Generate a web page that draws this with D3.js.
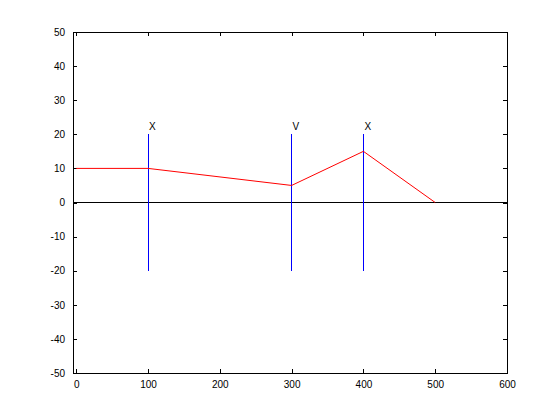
<!DOCTYPE html>
<html lang="en">
<head>
<meta charset="utf-8">
<title>plot</title>
<script src="https://cdnjs.cloudflare.com/ajax/libs/d3/7.8.5/d3.min.js"></script>
<style>
  body { margin: 0; background: #fff; }
  svg text { font-family: "Liberation Sans", Arial, Helvetica, sans-serif; font-size: 10px; }
</style>
</head>
<body>
<div id="chart"></div>
<script>
// data
const lineX = [0, 100, 300, 400, 500];
const lineY = [10, 10, 5, 15, 0];
const markX = [100, 300, 400];
const markLabels = ["X", "V", "X"];
const markRange = [-20, 20];
const xTicks = [0, 100, 200, 300, 400, 500, 600];
const yTicks = [-50, -40, -30, -20, -10, 0, 10, 20, 30, 40, 50];

const width = 560, height = 420;
const margin = {left: 73, right: 53, top: 32, bottom: 47};

const svg = d3.select("#chart").append("svg")
    .attr("width", width)
    .attr("height", height);

const x = d3.scaleLinear().domain([-4.5, 600]).range([margin.left, width - margin.right]);
const y = d3.scaleLinear().domain([-50, 50]).range([height - margin.bottom, margin.top]);

const tl = 4;
const fmt = d => String(d); // plain hyphen minus, like matlab

// axes (MATLAB style: ticks inward, on all four sides)
svg.append("g")
    .attr("transform", "translate(0," + (height - margin.bottom) + ")")
    .call(d3.axisBottom(x).tickValues(xTicks).tickSize(-tl).tickPadding(tl + 4).tickFormat(fmt));
svg.append("g")
    .attr("transform", "translate(0," + margin.top + ")")
    .call(d3.axisTop(x).tickValues(xTicks).tickSize(-tl).tickFormat(""));
svg.append("g")
    .attr("transform", "translate(" + margin.left + ",0)")
    .call(d3.axisLeft(y).tickValues(yTicks).tickSize(-tl).tickPadding(tl + 4).tickFormat(fmt));
svg.append("g")
    .attr("transform", "translate(" + (width - margin.right) + ",0)")
    .call(d3.axisRight(y).tickValues(yTicks).tickSize(-tl).tickFormat(""));

svg.selectAll(".domain").attr("stroke", "#000").attr("shape-rendering", "crispEdges");
svg.selectAll(".tick line").attr("stroke", "#000").attr("shape-rendering", "crispEdges");
svg.selectAll(".tick text").attr("fill", "#000");

// horizontal zero line
svg.append("line")
    .attr("x1", x(-4.5)).attr("x2", x(600))
    .attr("y1", y(0)).attr("y2", y(0))
    .attr("stroke", "#000")
    .attr("shape-rendering", "crispEdges");

// vertical markers
svg.selectAll(".mark")
    .data(markX)
    .enter()
    .append("line")
    .attr("x1", d => x(d)).attr("x2", d => x(d))
    .attr("y1", y(markRange[0])).attr("y2", y(markRange[1]))
    .attr("stroke", "#0000ff")
    .attr("shape-rendering", "crispEdges");

svg.selectAll(".lbl")
    .data(markX)
    .enter()
    .append("text")
    .attr("x", d => x(d) + 1)
    .attr("y", y(22))
    .attr("dominant-baseline", "middle")
    .text((d, i) => markLabels[i]);

// red line
const pts = lineX.map((d, i) => [d, lineY[i]]);
svg.append("path")
    .attr("d", d3.line().x(d => x(d[0])).y(d => y(d[1]))(pts))
    .attr("fill", "none")
    .attr("stroke", "#ff0000");
</script>
</body>
</html>
